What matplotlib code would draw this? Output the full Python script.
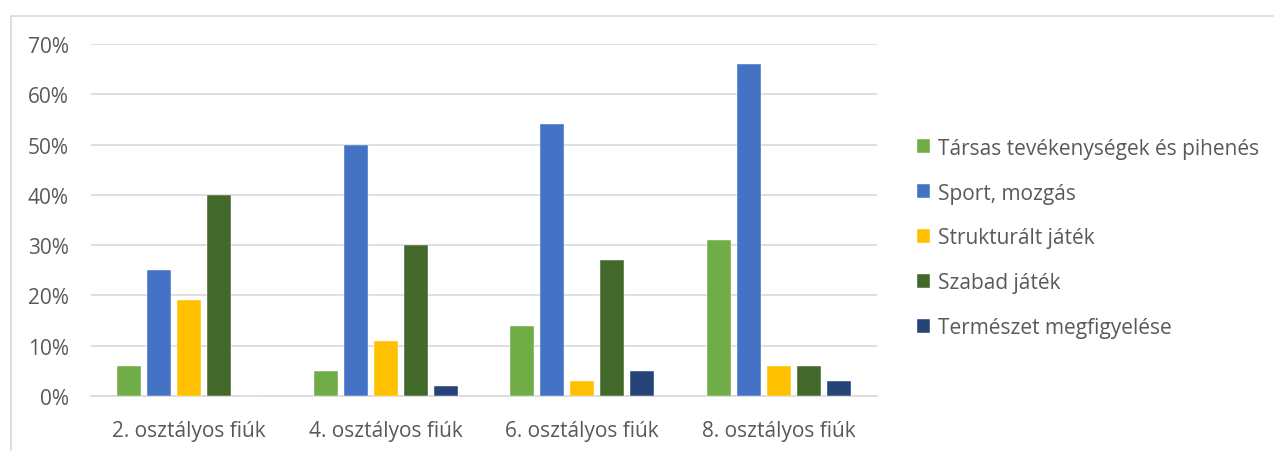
import matplotlib
matplotlib.use("Agg")
import matplotlib.pyplot as plt
from matplotlib.patches import Rectangle
from matplotlib.ticker import FuncFormatter
import numpy as np

plt.rcParams['font.family'] = ['Open Sans', 'DejaVu Sans']

categories = ["2. osztályos fiúk", "4. osztályos fiúk", "6. osztályos fiúk", "8. osztályos fiúk"]
series_names = ["Társas tevékenységek és pihenés", "Sport, mozgás", "Strukturált játék",
                "Szabad játék", "Természet megfigyelése"]
tarsas = [6, 5, 14, 31]
sport = [25, 50, 54, 66]
strukturalt = [19, 11, 3, 6]
szabad = [40, 30, 27, 6]
termeszet = [0, 2, 5, 3]
values = [tarsas, sport, strukturalt, szabad, termeszet]
colors = ["#70AD47", "#4472C4", "#FFC000", "#43682B", "#264478"]
yticks = [0, 10, 20, 30, 40, 50, 60, 70]

W, H = 1274, 452
fig = plt.figure(figsize=(W / 100, H / 100), dpi=100)
fig.patches.append(Rectangle((10.5 / W, -0.1), 1.2, 1 - 16.5 / H + 0.1, transform=fig.transFigure,
                             fill=False, edgecolor="#D9D9D9", linewidth=1.2, zorder=0))

ax = fig.add_axes([91 / W, 1 - 397 / H, (877 - 91) / W, (397 - 45) / H])
x = np.arange(len(categories))
slot = 30 / 196.5
bw = 24 / 196.5
for i, (vals, name, c) in enumerate(zip(values, series_names, colors)):
    ax.bar(x + (i - 2) * slot, vals, width=bw, color=c, label=name, zorder=3,
           edgecolor="white", linewidth=0.3)

ax.set_xlim(-0.5, len(categories) - 0.5)
ax.set_ylim(0, 70)
ax.set_yticks(yticks)
ax.yaxis.set_major_formatter(FuncFormatter(lambda v, p: f"{int(v)}%"))
ax.set_xticks(x)
ax.set_xticklabels(categories)
ax.grid(axis='y', color="#D9D9D9", linewidth=1.2, zorder=0)
for s in ['top', 'right', 'left']:
    ax.spines[s].set_visible(False)
ax.spines['bottom'].set_color("#D9D9D9")
ax.spines['bottom'].set_linewidth(1.2)
ax.tick_params(axis='both', length=0, labelsize=15, colors="#595959")
ax.tick_params(axis='y', pad=16)
ax.tick_params(axis='x', pad=17)

leg = ax.legend(loc='center left', bbox_to_anchor=(898 / W, 1 - 239 / H), bbox_transform=fig.transFigure,
                frameon=False, fontsize=15, handlelength=0.65, handleheight=0.65,
                handletextpad=0.35, labelspacing=1.15, labelcolor="#595959")
fig.savefig("out.png", dpi=100)
